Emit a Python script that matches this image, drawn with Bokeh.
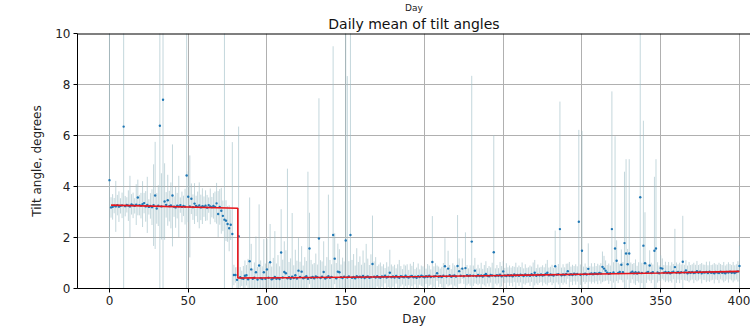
from bokeh.plotting import figure
from bokeh.models import Range1d, Title, FixedTicker, ColumnDataSource, Span
from bokeh.embed import file_html
from bokeh.resources import INLINE

# ---- data ----
days = list(range(0, 401))

mean_tilt = [
    4.25, 3.18, 3.20, 3.25, 3.22, 3.27, 3.21, 3.24, 3.26, 6.35,
    3.23, 3.28, 3.25, 3.22, 3.30, 3.26, 3.24, 3.29, 3.57, 3.27,
    3.25, 3.31, 3.35, 3.22, 3.28, 3.20, 3.24, 3.19, 3.27, 3.65,
    3.14, 3.25, 6.38, 3.22, 7.40, 3.41, 3.28, 3.46, 3.23, 3.26,
    3.65, 3.21, 3.18, 3.25, 3.22, 3.27, 3.20, 3.24, 3.21, 4.43,
    3.60, 3.22, 3.52, 3.19, 3.33, 3.24, 3.20, 3.26, 3.18, 3.23,
    3.21, 3.25, 3.17, 3.27, 3.22, 3.19, 3.24, 3.20, 3.34, 2.92,
    3.20, 3.05, 2.85, 2.70, 2.66, 2.53, 2.36, 2.50, 2.14, 0.53,
    0.53, 0.34, 2.05, 0.44, 0.40, 0.38, 0.50, 0.52, 0.36, 1.07,
    0.75, 0.38, 0.42, 0.64, 0.35, 0.90, 0.40, 0.37, 0.64, 0.38,
    0.75, 0.42, 1.03, 0.36, 0.40, 0.45, 0.38, 0.41, 0.37, 1.41,
    0.43, 0.65, 0.60, 0.40, 0.44, 0.38, 0.46, 0.41, 0.52, 0.39,
    0.70, 0.45, 0.66, 0.40, 0.43, 0.48, 0.38, 1.57, 0.42, 0.45,
    0.40, 0.47, 0.44, 1.96, 0.41, 0.46, 0.65, 0.39, 0.43, 0.48,
    0.42, 0.45, 2.10, 1.17, 0.40, 0.66, 0.64, 0.44, 0.41, 0.46,
    1.88, 0.43, 0.47, 2.10, 0.42, 0.45, 0.40, 0.48, 0.44, 0.46,
    0.43, 0.49, 0.41, 0.45, 0.47, 0.42, 0.44, 0.96, 0.46, 0.43,
    0.48, 0.44, 0.42, 0.47, 0.45, 0.50, 0.43, 0.46, 0.62, 0.44,
    0.47, 0.43, 0.49, 0.45, 0.42, 0.48, 0.46, 0.44, 0.50, 0.45,
    0.43, 0.47, 0.49, 0.44, 0.46, 0.42, 0.48, 0.45, 0.50, 0.47,
    0.44, 0.48, 0.46, 0.50, 0.45, 1.04, 0.47, 0.49, 0.60, 0.46,
    0.48, 0.45, 0.50, 0.87, 0.47, 0.78, 0.52, 0.46, 0.49, 0.51,
    0.47, 0.88, 0.68, 0.50, 0.78, 0.48, 0.80, 0.52, 0.49, 0.51,
    1.84, 0.50, 0.70, 0.48, 0.53, 0.49, 0.51, 0.47, 0.52, 0.57,
    0.50, 0.48, 0.53, 0.51, 1.42, 0.49, 0.52, 0.50, 0.54, 0.48,
    0.67, 0.51, 0.49, 0.53, 0.50, 0.52, 0.48, 0.55, 0.51, 0.53,
    0.50, 0.54, 0.52, 0.49, 0.55, 0.51, 0.53, 0.50, 0.56, 0.52,
    0.62, 0.50, 0.54, 0.52, 0.55, 0.51, 0.53, 0.57, 0.62, 0.52,
    0.55, 0.53, 0.51, 0.87, 0.54, 0.56, 2.33, 0.52, 0.55, 0.53,
    0.57, 0.68, 0.54, 0.56, 0.53, 0.58, 0.55, 0.57, 2.62, 0.54,
    1.48, 0.56, 0.58, 0.55, 0.77, 0.57, 0.59, 0.56, 0.60, 0.58,
    0.57, 0.61, 0.59, 0.85, 0.78, 0.70, 0.62, 0.58, 0.60, 2.33,
    0.63, 1.57, 1.09, 0.61, 0.65, 0.93, 0.64, 1.78, 1.37, 0.95,
    1.37, 0.62, 0.66, 0.60, 0.64, 0.59, 0.63, 3.58, 0.61, 1.68,
    0.99, 0.62, 0.65, 0.90, 0.61, 0.64, 1.48, 1.57, 0.63, 0.60,
    0.80, 0.78, 0.62, 0.65, 0.61, 0.64, 0.60, 0.63, 0.66, 0.84,
    0.62, 0.65, 0.61, 0.64, 1.05, 0.63, 0.71, 0.60, 0.64, 0.62,
    0.65, 0.61, 0.63, 0.68, 0.62, 0.66, 0.60, 0.64, 0.63, 0.65,
    0.61, 0.66, 0.62, 0.64, 0.60, 0.65, 0.63, 0.61, 0.66, 0.62,
    0.64, 0.60, 0.65, 0.63, 0.66, 0.62, 0.64, 0.61, 0.65, 0.67,
    0.88,
]

std_tilt = [
    9.5, 0.4, 0.5, 0.3, 1.0, 0.4, 0.6, 0.3, 0.5, 9.0,
    0.4, 0.3, 0.6, 1.2, 0.4, 0.5, 0.3, 0.8, 0.7, 0.4,
    0.5, 0.9, 0.4, 0.6, 1.1, 0.3, 0.5, 0.7, 1.6, 2.1,
    0.6, 0.8, 9.0, 1.3, 9.0, 1.5, 0.5, 1.0, 0.6, 0.9,
    2.0, 0.4, 0.8, 0.5, 1.2, 0.3, 0.6, 0.4, 0.7, 9.0,
    1.0, 2.0, 0.6, 0.5, 0.8, 0.4, 0.6, 0.9, 0.5, 0.7,
    0.4, 0.6, 0.5, 0.3, 0.7, 0.4, 0.5, 0.6, 0.8, 0.9,
    0.7, 0.9, 0.6, 9.0, 0.8, 0.7, 0.9, 0.6, 3.6, 0.4,
    0.3, 0.5, 4.3, 0.4, 0.3, 0.5, 0.6, 0.4, 0.8, 2.5,
    1.0, 0.4, 0.6, 1.4, 0.5, 2.4, 0.7, 0.5, 1.3, 0.6,
    1.2, 0.6, 1.5, 0.5, 0.8, 1.8, 0.6, 0.9, 0.5, 1.7,
    0.7, 1.2, 0.9, 4.3, 0.6, 0.8, 2.5, 0.5, 1.0, 0.7,
    1.3, 0.6, 1.0, 0.5, 0.8, 0.6, 4.2, 1.4, 0.7, 0.5,
    0.6, 0.9, 0.5, 5.5, 0.7, 0.6, 1.2, 0.5, 0.8, 3.2,
    0.7, 0.5, 7.4, 1.0, 0.6, 1.1, 0.9, 0.5, 0.8, 0.6,
    9.0, 7.9, 0.6, 8.5, 0.7, 0.9, 0.5, 1.1, 0.6, 0.8,
    0.5, 1.0, 0.6, 1.3, 0.7, 0.5, 0.9, 1.9, 0.6, 0.8,
    0.4, 0.5, 0.6, 0.4, 0.5, 0.3, 0.6, 0.4, 0.9, 0.5,
    0.4, 0.5, 0.3, 0.5, 0.7, 0.4, 0.3, 0.5, 0.4, 0.5,
    0.3, 0.5, 0.4, 0.6, 0.3, 0.4, 0.5, 0.3, 0.4, 0.4,
    0.4, 0.3, 0.5, 0.4, 0.3, 1.8, 0.4, 0.5, 0.3, 0.4,
    0.3, 0.4, 0.5, 1.1, 0.3, 0.7, 0.4, 0.3, 0.5, 0.4,
    0.4, 2.0, 0.5, 0.3, 0.4, 0.3, 1.4, 0.4, 0.3, 0.4,
    6.5, 0.4, 0.5, 0.3, 0.4, 0.3, 0.5, 0.3, 0.4, 0.5,
    0.3, 0.4, 0.3, 0.5, 4.6, 0.3, 0.4, 0.3, 0.5, 0.4,
    0.4, 0.3, 0.5, 0.3, 0.4, 0.3, 0.4, 0.3, 0.5, 0.3,
    0.4, 0.3, 0.5, 0.3, 0.4, 0.3, 0.3, 0.4, 0.3, 0.5,
    0.5, 0.3, 0.4, 0.3, 0.3, 0.4, 0.3, 0.4, 0.5, 0.3,
    0.3, 0.4, 0.3, 1.4, 0.3, 0.4, 5.0, 0.3, 0.4, 0.3,
    0.4, 0.3, 0.5, 0.3, 0.4, 0.3, 0.4, 0.3, 3.6, 0.4,
    4.7, 0.3, 0.4, 0.3, 1.0, 0.3, 0.4, 0.3, 0.4, 0.3,
    0.4, 0.3, 0.4, 0.6, 0.5, 0.4, 0.3, 0.4, 0.3, 5.4,
    0.4, 4.4, 0.8, 0.4, 0.3, 0.6, 0.4, 2.8, 3.7, 0.6,
    3.7, 0.4, 0.3, 0.4, 0.5, 0.3, 0.4, 9.0, 0.4, 4.9,
    2.0, 0.4, 0.3, 0.6, 0.4, 0.3, 2.9, 3.5, 0.4, 0.3,
    0.5, 0.4, 0.3, 0.4, 0.3, 0.4, 0.3, 0.4, 0.3, 1.5,
    0.4, 0.3, 0.4, 0.3, 1.8, 0.3, 0.4, 0.3, 0.4, 0.3,
    0.3, 0.4, 0.3, 0.4, 0.3, 0.3, 0.4, 0.3, 0.3, 0.4,
    0.3, 0.4, 0.3, 0.3, 0.4, 0.3, 0.3, 0.4, 0.3, 0.3,
    0.4, 0.3, 0.3, 0.4, 0.3, 0.3, 0.4, 0.3, 0.3, 0.4,
    0.8,
]

fit_days = [1, 81.5, 81.5, 150, 200, 250, 300, 350, 400]
fit_tilt = [3.27, 3.15, 0.41, 0.44, 0.47, 0.51, 0.56, 0.61, 0.67]

x_ticks = [0, 50, 100, 150, 200, 250, 300, 350, 400]
y_ticks = [0, 2, 4, 6, 8, 10]

title_text = "Daily mean of tilt angles"
upper_panel_label = "Day"
x_label = "Day"
y_label = "Tilt angle, degrees"

# ---- figure ----
FONT = "DejaVu Sans"

lo = [m - s for m, s in zip(mean_tilt, std_tilt)]
hi = [m + s for m, s in zip(mean_tilt, std_tilt)]
src = ColumnDataSource(dict(day=days, mean=mean_tilt, lo=lo, hi=hi))

p = figure(width=750, height=329, output_backend="svg", toolbar_location=None,
           title=None,
           x_range=Range1d(-20.3, 407.0), y_range=Range1d(0, 10),
           min_border_left=77, min_border_right=0, min_border_top=0,
           min_border_bottom=41)
p.outline_line_color = None
p.background_fill_color = "white"
p.border_fill_color = "white"

# titles above the frame (first added sits next to the frame)
p.add_layout(Title(text=title_text, align="center", offset=10,
                   text_font=FONT, text_font_size="14px",
                   text_font_style="normal", text_color="#111111",
                   standoff=3), "above")
p.add_layout(Title(text=upper_panel_label, align="center", offset=10,
                   text_font=FONT, text_font_size="9px",
                   text_font_style="normal", text_color="#222222",
                   standoff=0), "above")

for ax in (p.xaxis[0], p.yaxis[0]):
    ax.axis_line_color = "black"
    ax.axis_line_width = 1
    ax.major_tick_line_color = "black"
    ax.major_tick_out = 4
    ax.major_tick_in = 0
    ax.minor_tick_line_color = None
    ax.major_label_text_font = FONT
    ax.major_label_text_font_size = "12px"
    ax.major_label_text_color = "#222222"
    ax.axis_label_text_font = FONT
    ax.axis_label_text_font_size = "12px"
    ax.axis_label_text_font_style = "normal"
    ax.axis_label_text_color = "#222222"

p.xaxis.ticker = FixedTicker(ticks=x_ticks)
p.yaxis.ticker = FixedTicker(ticks=y_ticks)
p.xaxis.axis_label = x_label
p.yaxis.axis_label = y_label
p.xaxis.major_label_standoff = 3
p.yaxis.major_label_standoff = 3
p.xaxis.axis_label_standoff = 4
p.yaxis.axis_label_standoff = 8

p.xgrid.ticker = FixedTicker(ticks=x_ticks)
p.ygrid.ticker = FixedTicker(ticks=y_ticks)
p.grid.grid_line_color = "#b0b0b0"
p.grid.grid_line_width = 1

# top spine
p.add_layout(Span(location=10, dimension="width", line_color="black", line_width=2))

# error bars, points, fit line
p.segment(x0="day", y0="lo", x1="day", y1="hi", source=src,
          line_color="#9dbcc4", line_alpha=0.6, line_width=1)
p.scatter(x="day", y="mean", source=src, size=2.4, fill_color="#1f77b4",
          line_color="#1f77b4", line_width=0)
p.line(fit_days, fit_tilt, line_color="#e8151b", line_width=1.6)

open("out.html", "w").write(file_html(p, INLINE))
